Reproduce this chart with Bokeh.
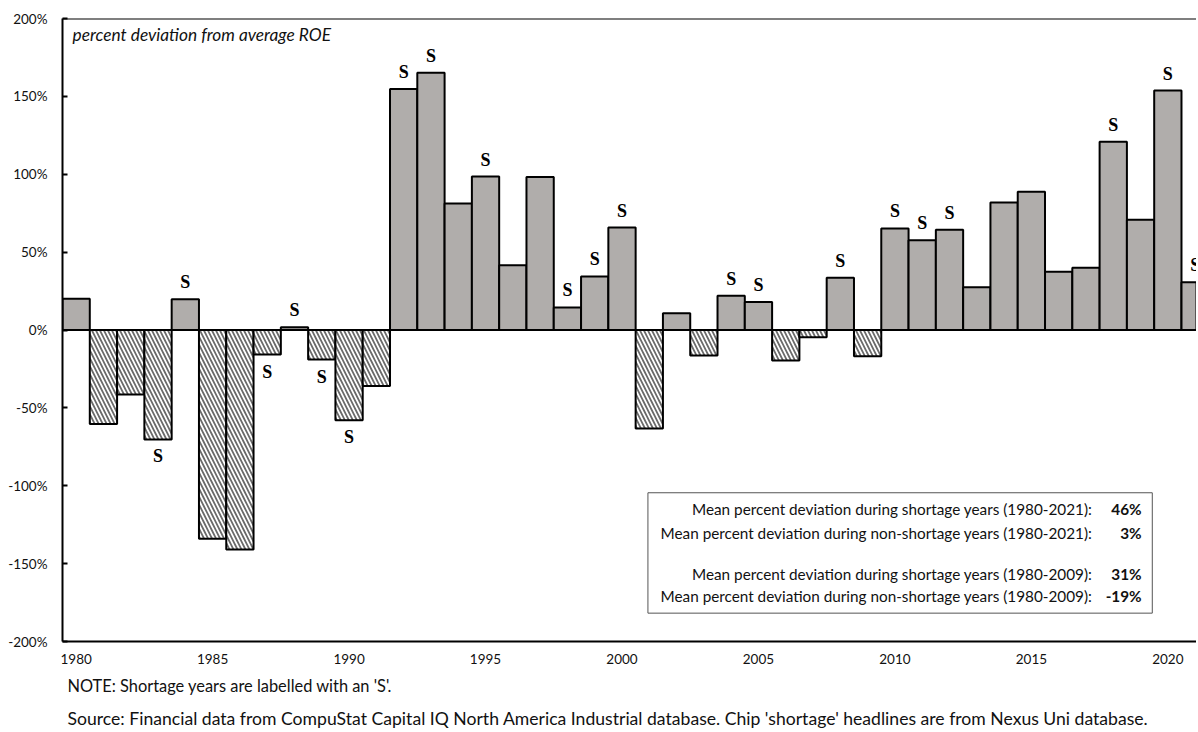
from bokeh.plotting import figure
from bokeh.models import ColumnDataSource, Span, BoxAnnotation, Label, FixedTicker, Range1d, Title
from bokeh.core.properties import value
from bokeh.embed import file_html
from bokeh.resources import INLINE

# ---------------- data ----------------
years = list(range(1980, 2022))
deviation = [20, -60.3, -41.4, -70.3, 19.7, -134, -141, -15.8, 1.7, -19, -57.9, -36,
             154.7, 165.2, 81.2, 98.5, 41.5, 98.3, 14.5, 34.4, 65.8, -63.2,
             10.7, -16.4, 22, 18, -19.6, -4.7, 33.6, -16.9, 65.2, 57.7,
             64.4, 27.4, 81.9, 88.7, 37.4, 40, 120.8, 70.8, 153.7, 30.6]
shortage_years = [1983, 1984, 1987, 1988, 1989, 1990, 1992, 1993, 1995, 1998, 1999,
                  2000, 2004, 2005, 2008, 2010, 2011, 2012, 2018, 2020, 2021]
x_ticks = [1980, 1985, 1990, 1995, 2000, 2005, 2010, 2015, 2020]
y_ticks = [-200, -150, -100, -50, 0, 50, 100, 150, 200]
stat_labels = ["Mean percent deviation during shortage years (1980-2021):",
               "Mean percent deviation during non-shortage years (1980-2021):",
               "Mean percent deviation during shortage years (1980-2009):",
               "Mean percent deviation during non-shortage years (1980-2009):"]
stat_values = ["46%", "3%", "31%", "-19%"]
note_text = "NOTE: Shortage years are labelled with an 'S'."
source_text = ("Source: Financial data from CompuStat Capital IQ North America Industrial database. "
               "Chip 'shortage' headlines are from Nexus Uni database.")

FONT = "Lato"

# ---------------- sources ----------------
pos = ColumnDataSource(dict(x=[y for y, v in zip(years, deviation) if v >= 0],
                            top=[v for v in deviation if v >= 0]))
neg = ColumnDataSource(dict(x=[y for y, v in zip(years, deviation) if v < 0],
                            top=[v for v in deviation if v < 0]))
s_vals = [deviation[years.index(y)] for y in shortage_years]
s_src = ColumnDataSource(dict(x=shortage_years, y=s_vals, t=["S"] * len(shortage_years),
                              off=[-17 if v >= 0 else 17 for v in s_vals]))

p = figure(width=1196, height=732, x_range=Range1d(1979.5, 2021.05), y_range=Range1d(-200, 200),
           output_backend="svg", toolbar_location=None,
           min_border_left=62, min_border_right=0, min_border_top=18, min_border_bottom=91)
p.outline_line_color = None
p.grid.visible = False
p.background_fill_color = "white"
p.border_fill_color = "white"

p.vbar(x="x", top="top", bottom=0, width=1, source=pos, fill_color="#B0ADAB",
       line_color="black", line_width=2)
p.vbar(x="x", top="top", bottom=0, width=1, source=neg, fill_color="white",
       hatch_pattern="\\", hatch_color="#6a6a6a", hatch_scale=8, hatch_weight=1.8,
       line_color="black", line_width=2)

p.text(x="x", y="y", text="t", y_offset="off", source=s_src, text_align="center",
       text_baseline="middle", text_font=value("Liberation Serif"), text_font_style="bold",
       text_font_size="18px", text_color="black")

p.add_layout(Span(location=0, dimension="width", line_color="black", line_width=2))
p.add_layout(Span(location=200, dimension="width", line_color="black", line_width=2))

# axes
xa = p.xaxis[0]
xa.ticker = FixedTicker(ticks=x_ticks)
xa.major_tick_in = 0
xa.major_tick_out = 0
xa.minor_tick_line_color = None
xa.axis_line_width = 2
xa.axis_line_color = "black"
xa.major_label_standoff = 12
xa.major_label_text_font = FONT
xa.major_label_text_font_size = "13.5px"
xa.major_label_text_color = "#111111"

ya = p.yaxis[0]
ya.ticker = FixedTicker(ticks=y_ticks)
ya.major_label_overrides = {t: f"{t}%" for t in y_ticks}
ya.major_tick_in = 5
ya.major_tick_out = 0
ya.major_tick_line_width = 2
ya.minor_tick_line_color = None
ya.axis_line_width = 2
ya.axis_line_color = "black"
ya.major_label_standoff = 15
ya.major_label_text_font = FONT
ya.major_label_text_font_size = "13.5px"
ya.major_label_text_color = "#111111"

# header
p.add_layout(Label(x=1979.87, y=189.5, text="percent deviation from average ROE",
                   text_font=FONT, text_font_style="italic", text_font_size="17.3px",
                   text_baseline="middle", text_color="#111111"))

# stats box
p.add_layout(BoxAnnotation(left=2000.95, right=2019.43, top=-104.5, bottom=-181.8,
                           fill_color="white", fill_alpha=1, line_color="#555555",
                           line_width=1, line_alpha=1))
stat_y = [-114.9, -130.1, -156.8, -170.7]
for lab, val, yy in zip(stat_labels, stat_values, stat_y):
    p.add_layout(Label(x=2017.23, y=yy, text=lab, text_align="right", text_baseline="middle",
                       text_font=FONT, text_font_size="15.3px", text_color="#111111"))
    p.add_layout(Label(x=2019.04, y=yy, text=val, text_align="right", text_baseline="middle",
                       text_font=FONT, text_font_style="bold", text_font_size="15.3px",
                       text_color="#111111"))

# notes below
p.add_layout(Title(text=note_text, align="left", offset=5, standoff=14,
                   text_font=FONT, text_font_style="normal", text_font_size="16.4px",
                   text_color="#111111"), "below")
p.add_layout(Title(text=source_text, align="left", offset=5, standoff=8,
                   text_font=FONT, text_font_style="normal", text_font_size="17.6px",
                   text_color="#111111"), "below")

open("out.html", "w").write(file_html(p, INLINE))
